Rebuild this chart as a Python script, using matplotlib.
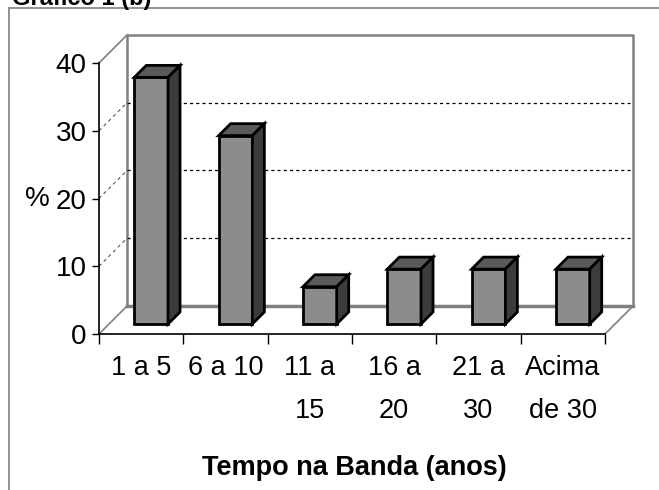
import numpy as np
import matplotlib.pyplot as plt
from matplotlib.patches import Polygon
from matplotlib.lines import Line2D

categories = ['1 a 5', '6 a 10', '11 a\n15', '16 a\n20', '21 a\n30', 'Acima\nde 30']
values = [36.4, 27.8, 5.5, 8.1, 8.1, 8.1]
yticks = [0, 10, 20, 30, 40]

plt.rcParams['font.family'] = ['Liberation Sans', 'DejaVu Sans']

W, H = 659, 490
fig = plt.figure(figsize=(W / 100, H / 100), dpi=100)

# front plane of the 3d box, in pixels
x0, x1, ytop, ybot = 99, 605, 63, 334
n = len(categories)
ax = fig.add_axes([x0 / W, 1 - ybot / H, (x1 - x0) / W, (ybot - ytop) / H])
ax.set_xlim(0, n)
ax.set_ylim(0, 40)

px_x = (x1 - x0) / n
px_y = (ybot - ytop) / 40


def depth(d):
    # oblique offset of d pixels "into" the chart, in data units
    return d / px_x, d / px_y


grey = '#808080'
bx, by = depth(28)

# back wall and floor
ax.plot([bx, bx, n + bx, n + bx], [by, 40 + by, 40 + by, by], color=grey, lw=1.8, clip_on=False, zorder=1)
ax.plot([bx, n + bx], [by, by], color=grey, lw=2.5, clip_on=False, zorder=1)
for x in [0, n]:
    ax.plot([x, x + bx], [0, by], color=grey, lw=1.2, clip_on=False, zorder=1)
ax.plot([0, bx], [40, 40 + by], color=grey, lw=1.2, clip_on=False, zorder=1)
for t in yticks[1:-1]:
    ax.plot([0, bx], [t, t + by], color='#555555', lw=0.8, ls=(0, (3, 3)), clip_on=False, zorder=1)
    ax.plot([bx, n + bx], [t + by, t + by], color='k', lw=0.9, ls=(0, (2.5, 2.5)), clip_on=False, zorder=1)

# bars: front face with bar(), top and side as polygons
d0x, d0y = depth(10)
dbx, dby = depth(12)
bw = 0.4
xs = np.arange(n) + 0.5 - bw / 2 + d0x
ax.bar(xs, values, width=bw, bottom=d0y, align='edge', color='#8c8c8c',
       edgecolor='k', lw=2, zorder=3, clip_on=False)
for x, v in zip(xs, values):
    yt = v + d0y
    top = [(x, yt), (x + bw, yt), (x + bw + dbx, yt + dby), (x + dbx, yt + dby)]
    side = [(x + bw, d0y), (x + bw, yt), (x + bw + dbx, yt + dby), (x + bw + dbx, d0y + dby)]
    ax.add_patch(Polygon(top, closed=True, fc='#5a5a5a', ec='k', lw=2, zorder=3, clip_on=False))
    ax.add_patch(Polygon(side, closed=True, fc='#3c3c3c', ec='k', lw=2, zorder=3, clip_on=False))

# axes
for s in ['top', 'right']:
    ax.spines[s].set_visible(False)
ax.spines['left'].set_linewidth(1.2)
ax.spines['bottom'].set_linewidth(1.2)
ax.set_facecolor('none')

ax.set_yticks(yticks)
ax.set_yticklabels([str(t) for t in yticks], fontsize=20)
ax.tick_params(axis='y', length=5, width=1, pad=4)

ax.set_xticks(np.arange(n + 1))
ax.set_xticklabels([])
ax.tick_params(axis='x', which='major', length=7, width=1)
ax.set_xticks(np.arange(n) + 0.5, minor=True)
ax.set_xticklabels(categories, minor=True, fontsize=19.5, linespacing=1.85)
ax.tick_params(axis='x', which='minor', length=0, pad=15)

fig.text(37 / W, 1 - 199 / H, '%', fontsize=20, ha='center', va='center')
fig.text(354 / W, 1 - 468 / H, 'Tempo na Banda (anos)', fontsize=19.5, fontweight='bold',
         ha='center', va='center')

# outer frame and clipped caption
fig.add_artist(Line2D([9 / W, 9 / W], [0, 1 - 8 / H], color=grey, lw=1.2))
fig.add_artist(Line2D([9 / W, 1], [1 - 8 / H, 1 - 8 / H], color=grey, lw=1.2))
fig.text(12 / W, 1 - 5 / H, 'Gráfico 1 (b)', fontsize=17, fontweight='bold', ha='left', va='baseline')

fig.savefig('out.png', dpi=100)
